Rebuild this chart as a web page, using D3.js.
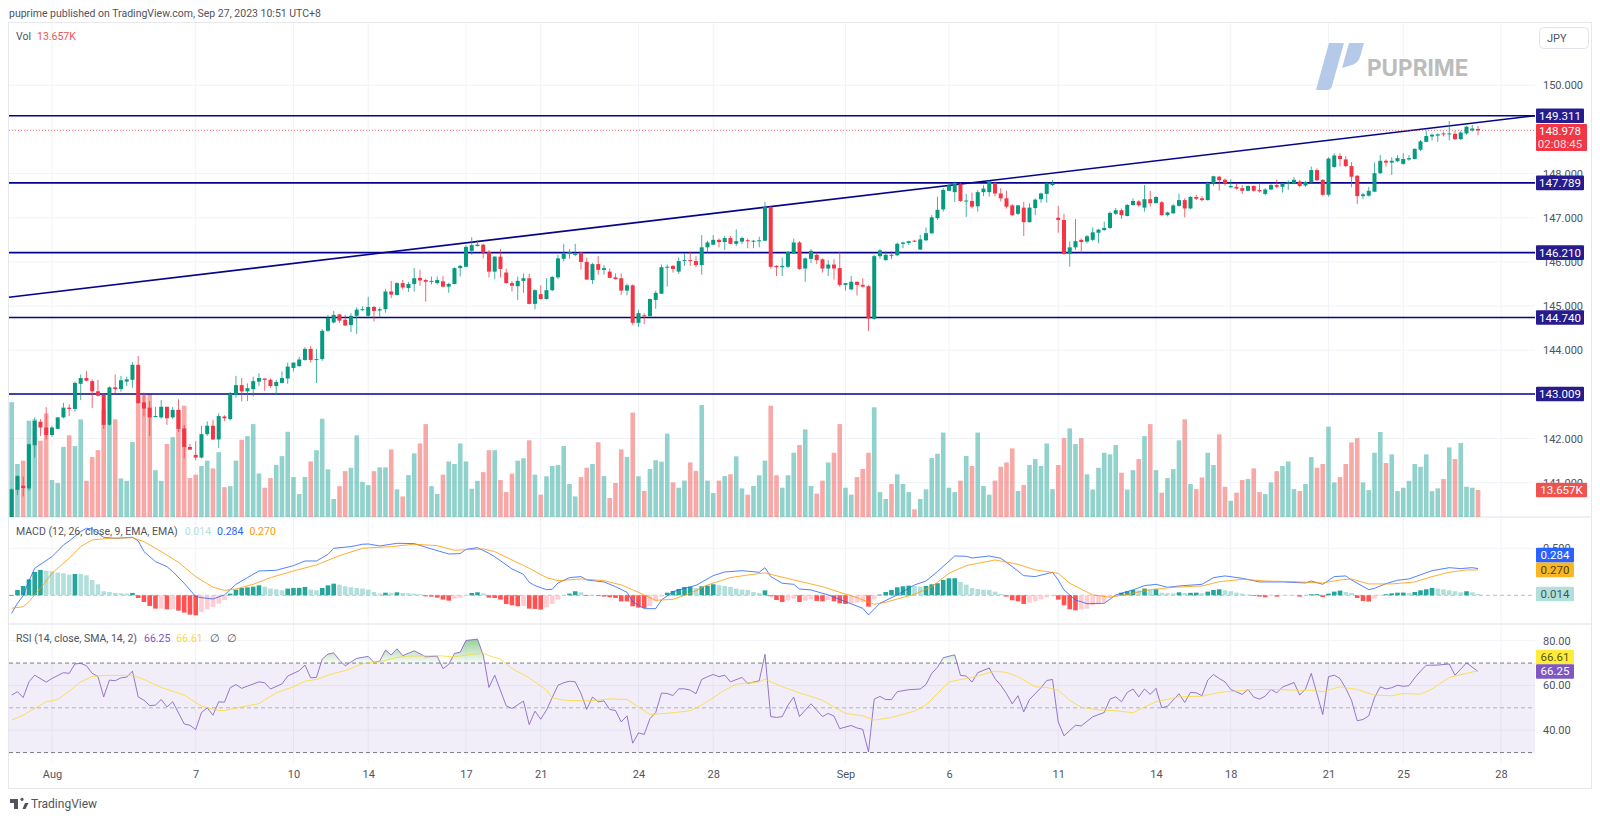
<!DOCTYPE html>
<html>
<head>
<meta charset="utf-8">
<script src="https://cdn.jsdelivr.net/npm/d3@7"></script>
<style>
  html, body { margin: 0; padding: 0; background: #fff; }
  svg { display: block; font-family: Roboto, sans-serif; }
  .domain { display: none; }
</style>
</head>
<body>
<div id="chart"></div>
<script>
// USDJPY 4h bars
var openP = [
  140.22,140.84,140.93,140.87,141.85,142.38,142.25,142.08,142.22,142.48,
  142.70,142.67,143.24,143.37,143.30,143.07,142.99,142.31,143.16,143.12,
  143.29,143.33,143.67,142.82,142.70,142.50,142.48,142.72,142.48,142.65,
  142.23,141.81,141.63,141.57,142.10,142.29,141.98,142.50,142.44,142.99,
  143.21,143.07,143.12,143.29,143.36,143.33,143.19,143.26,143.36,143.60,
  143.64,143.78,144.03,143.78,143.80,144.44,144.63,144.81,144.69,144.57,
  144.78,144.91,144.78,144.98,144.90,144.93,145.33,145.25,145.52,145.41,
  145.50,145.64,145.59,145.55,145.52,145.56,145.44,145.50,145.86,145.89,
  146.25,146.36,146.39,146.22,145.78,146.12,145.76,145.52,145.45,145.57,
  145.63,145.05,145.27,145.16,145.36,145.65,146.07,146.18,146.16,146.21,
  146.00,145.59,145.95,145.82,145.78,145.65,145.63,145.35,145.47,144.62,
  144.79,144.77,145.14,145.28,145.88,145.91,145.78,146.02,146.04,146.02,
  145.93,146.33,146.39,146.50,146.45,146.54,146.41,146.46,146.49,146.46,
  146.47,146.48,147.24,145.91,145.88,145.89,146.19,146.44,145.85,146.07,
  146.16,146.06,145.85,145.94,145.86,145.48,145.38,145.55,145.48,145.45,
  144.71,146.13,146.04,146.16,146.15,146.41,146.43,146.48,146.28,146.49,
  146.65,146.99,147.19,147.61,147.58,147.76,147.38,147.38,147.26,147.58,
  147.58,147.78,147.55,147.44,147.28,147.09,147.23,146.90,147.22,147.42,
  147.54,147.74,147.00,146.95,146.18,146.33,146.50,146.46,146.50,146.66,
  146.72,146.77,147.09,147.17,147.04,147.29,147.37,147.23,147.42,147.33,
  147.35,147.06,147.10,147.27,147.40,147.21,147.47,147.44,147.40,147.78,
  147.93,147.86,147.69,147.70,147.67,147.61,147.72,147.63,147.54,147.64,
  147.74,147.70,147.78,147.78,147.82,147.73,147.80,148.08,147.86,147.52,
  148.15,148.40,148.32,148.17,147.95,147.49,147.50,147.59,148.01,148.29,
  148.25,148.28,148.22,148.32,148.33,148.54,148.72,148.84,148.86,148.91,
  148.89,148.90,148.78,148.91,148.98,149.01];
var closeP = [
  140.85,141.15,140.88,141.87,142.40,142.25,142.08,142.25,142.48,142.70,
  142.67,143.26,143.37,143.31,143.07,142.97,142.31,143.16,143.12,143.32,
  143.34,143.67,142.80,142.68,142.48,142.51,142.72,142.46,142.65,142.22,
  141.81,141.75,141.57,142.10,142.29,141.98,142.51,142.46,143.01,143.21,
  143.07,143.14,143.30,143.37,143.33,143.19,143.28,143.37,143.63,143.72,
  143.79,144.03,143.78,143.80,144.44,144.73,144.80,144.67,144.56,144.78,
  144.92,144.93,144.98,144.89,144.93,145.33,145.26,145.52,145.42,145.50,
  145.63,145.58,145.55,145.57,145.59,145.44,145.50,145.86,145.91,146.34,
  146.38,146.39,146.21,145.78,146.12,145.84,145.52,145.46,145.57,145.63,
  145.05,145.36,145.16,145.36,145.66,146.08,146.19,146.22,146.19,146.00,
  145.60,145.95,145.82,145.86,145.64,145.61,145.35,145.47,144.62,144.84,
  144.77,145.16,145.30,145.88,145.89,145.84,146.02,146.04,146.02,145.93,
  146.33,146.44,146.50,146.45,146.54,146.41,146.47,146.54,146.47,146.48,
  146.49,147.24,145.89,145.88,145.91,146.22,146.44,145.84,146.08,146.25,
  146.04,145.85,145.94,145.85,145.48,145.52,145.55,145.48,145.44,144.72,
  146.13,146.26,146.16,146.14,146.41,146.44,146.47,146.47,146.51,146.65,
  147.01,147.18,147.63,147.73,147.79,147.38,147.39,147.25,147.58,147.66,
  147.83,147.55,147.44,147.25,147.06,147.28,146.90,147.23,147.41,147.55,
  147.77,147.78,146.95,146.18,146.33,146.47,146.45,146.58,146.67,146.73,
  146.77,147.11,147.17,147.06,147.29,147.38,147.28,147.42,147.33,147.47,
  147.06,147.12,147.28,147.40,147.21,147.47,147.43,147.40,147.79,147.94,
  147.85,147.78,147.72,147.66,147.61,147.72,147.61,147.60,147.64,147.74,
  147.70,147.78,147.80,147.86,147.72,147.81,148.08,147.85,147.52,148.34,
  148.41,148.33,148.17,147.93,147.49,147.53,147.61,148.01,148.29,148.25,
  148.29,148.35,148.33,148.35,148.56,148.73,148.85,148.88,148.89,148.90,
  148.91,148.78,148.93,149.06,149.02,148.978];
var highP = [
  140.87,141.17,141.14,141.89,142.48,142.44,142.71,142.29,142.48,142.81,
  142.78,143.29,143.45,143.53,143.34,143.33,143.02,143.18,143.45,143.42,
  143.40,143.73,143.87,143.04,142.85,142.72,142.87,142.72,142.72,142.89,
  142.31,141.88,141.94,142.29,142.39,142.42,142.57,142.53,143.06,143.42,
  143.37,143.25,143.40,143.48,143.36,143.36,143.33,143.52,143.72,143.72,
  143.85,144.07,144.10,144.03,144.48,144.80,144.89,144.82,144.80,144.84,
  144.97,144.99,145.21,145.00,144.97,145.39,145.57,145.54,145.59,145.55,
  145.86,145.82,145.62,145.67,145.67,145.68,145.53,145.88,145.93,146.38,
  146.56,146.50,146.41,146.27,146.13,146.29,145.85,145.57,145.67,145.74,
  145.73,145.38,145.47,145.63,145.68,146.16,146.41,146.29,146.41,146.22,
  146.10,145.98,146.13,145.93,145.85,145.74,145.74,145.51,145.49,144.91,
  144.84,145.17,145.35,145.94,145.94,145.93,146.10,146.19,146.23,146.13,
  146.61,146.48,146.61,146.53,146.59,146.59,146.74,146.57,146.53,146.50,
  146.57,147.36,147.27,145.93,146.10,146.25,146.53,146.47,146.10,146.29,
  146.21,146.08,146.04,146.06,146.23,145.52,145.68,145.55,145.63,145.48,
  146.16,146.29,146.24,146.24,146.44,146.46,146.48,146.50,146.61,146.78,
  147.06,147.48,147.67,147.79,147.82,147.79,147.54,147.57,147.63,147.74,
  147.85,147.82,147.67,147.61,147.31,147.29,147.36,147.33,147.44,147.57,
  147.82,147.86,147.27,147.09,146.46,146.97,146.53,146.61,146.78,146.75,
  146.91,147.14,147.22,147.21,147.31,147.44,147.40,147.74,147.61,147.49,
  147.38,147.14,147.31,147.55,147.44,147.49,147.52,147.49,147.82,147.95,
  147.95,147.89,147.87,147.79,147.74,147.73,147.73,147.76,147.67,147.76,
  147.87,147.79,147.85,147.92,147.86,147.83,148.16,148.12,147.87,148.37,
  148.46,148.46,148.40,148.26,147.97,147.57,147.70,148.25,148.42,148.32,
  148.37,148.42,148.46,148.42,148.57,148.76,148.97,148.91,148.91,148.95,
  149.19,148.97,148.97,149.08,149.10,149.08];
var lowP = [
  140.22,140.72,140.69,140.82,141.57,142.06,141.98,142.04,142.21,142.46,
  142.51,142.61,142.87,143.30,142.69,142.95,142.22,142.29,143.02,143.06,
  143.19,143.15,142.80,142.50,142.06,142.48,142.45,142.31,142.45,142.15,
  141.55,141.74,141.51,141.55,142.06,141.97,141.79,142.40,142.41,142.93,
  142.84,142.85,142.95,143.19,143.08,143.15,142.99,143.25,143.24,143.52,
  143.63,143.76,143.72,143.26,143.76,144.42,144.61,144.62,144.55,144.41,
  144.37,144.89,144.75,144.65,144.74,144.85,145.18,145.24,145.38,145.32,
  145.33,145.46,145.10,145.49,145.49,145.42,145.30,145.49,145.67,145.88,
  146.16,146.35,146.08,145.65,145.61,145.65,145.51,145.33,145.14,145.30,
  145.04,144.93,145.15,145.15,145.34,145.61,146.01,146.07,146.13,145.83,
  145.59,145.50,145.71,145.71,145.63,145.60,145.25,145.24,144.57,144.53,
  144.59,144.76,144.94,145.27,145.44,145.76,145.73,145.91,145.91,145.88,
  145.71,146.21,146.38,146.33,146.27,146.40,146.36,146.40,146.31,146.31,
  146.33,146.47,145.85,145.68,145.68,145.86,146.18,145.82,145.55,145.97,
  145.95,145.76,145.68,145.60,145.44,145.35,145.36,145.24,145.42,144.43,
  144.69,146.07,146.03,146.06,146.13,146.31,146.38,146.45,146.27,146.47,
  146.63,146.95,147.14,147.60,147.36,147.36,147.02,147.21,147.14,147.49,
  147.48,147.49,147.37,147.21,147.04,147.06,146.59,146.89,147.06,147.34,
  147.34,147.72,146.66,146.16,145.89,146.27,146.19,146.42,146.47,146.42,
  146.71,146.75,147.06,146.97,147.03,147.27,147.25,147.14,147.25,147.33,
  147.05,147.03,147.09,147.25,147.01,147.19,147.40,147.37,147.39,147.72,
  147.61,147.73,147.67,147.64,147.54,147.60,147.59,147.57,147.51,147.62,
  147.67,147.57,147.63,147.76,147.69,147.70,147.78,147.83,147.49,147.48,
  148.13,148.16,148.15,147.69,147.31,147.42,147.48,147.58,147.99,148.16,
  147.97,148.26,148.20,148.29,148.32,148.51,148.71,148.75,148.72,148.84,
  148.75,148.76,148.76,148.88,148.95,148.87];
// volume in thousands
var volumes = [
  58.1,26.8,28.5,48.7,49.4,38.6,52.4,18.7,17.2,35.5,
  41.3,35.9,49.4,18.3,30.3,33.8,54.1,46.5,49.4,19.5,
  18.3,37.9,61.7,61.7,62,23.7,18.3,36.9,40.4,54.1,
  56.3,19.7,21.4,25.8,28.5,24.6,32.8,15.1,15.6,28.5,
  39.1,40.9,47,22,14.8,19.7,26.3,30.8,43.1,20.2,
  11.6,20.2,28.1,33.8,49.7,24.1,9.1,15.6,23.2,24.9,
  41.3,17.8,16.1,23.2,25.1,25.1,34.2,14,10.4,21.2,
  32.2,37.2,47,15.6,11.6,21.4,28.1,26.8,37.2,28.1,
  14.3,18.3,22.7,33.8,33.8,18.7,12.6,21.9,28.5,29.7,
  38.8,21.4,11.3,20.6,25.8,26.3,35.9,16.7,10.4,20.2,
  24.9,26.8,37.8,20.7,9.6,17.2,34.2,30.3,52.8,20.6,
  13.2,24.3,28.7,28,42.2,17.5,14.8,18.4,27.6,23.3,
  56.7,18.4,12.1,18.4,20.7,21.6,30.7,14.5,11.3,15.7,
  21.1,28.5,56.3,21.1,14.8,21.1,32.5,36.4,44.3,15.7,
  11.8,18.4,27.6,32.5,47,14.8,11.3,20.2,24.3,32.5,
  55.5,12.6,9.1,16.7,21.6,16.7,12.6,3.9,9.1,14,
  29.8,32,42.7,14.8,12.6,18.4,30.9,25.8,42.7,15.7,
  11.3,18.4,25.4,27.6,34.7,13.1,16.2,26.3,29.3,25.8,
  37.2,14.1,26.3,39.9,44.8,36.9,39.9,21.6,13.9,24.9,
  32.5,31.7,36.4,22.4,13.9,23.7,29.3,40.9,47,23.7,
  12.3,19.7,24.2,38.8,49.4,16.7,14.1,20,32.5,26.3,
  41.8,15.3,8.2,12.3,18.7,19.2,24.6,12.6,11.6,17.5,
  23.2,25.8,28.1,14.1,13.1,16.7,30.3,24.9,26.8,45.7,
  17.5,20.2,26.8,37.7,39.9,17.5,13.6,32.5,43,27.3,
  31.7,13.1,14.8,18.3,26.8,25.4,31.7,13.1,14.5,19.2,
  35.2,29.3,37.4,15.3,14.8,13.657];
var macdHist = [
  -.007,.057,.099,.17,.248,.27,.262,.255,.241,.234,
  .22,.227,.226,.213,.163,.117,.043,.035,.025,.021,
  .018,.025,-.028,-.071,-.113,-.142,-.141,-.149,-.148,-.163,
  -.184,-.206,-.213,-.177,-.149,-.124,-.089,-.05,.018,.06,
  .078,.085,.092,.106,.092,.071,.064,.053,.071,.078,
  .079,.089,.06,.053,.078,.106,.124,.113,.096,.085,
  .078,.071,.06,.035,.018,.028,.027,.032,.025,.021,
  .018,.011,-.011,-.014,-.025,-.046,-.057,-.035,-.025,-.007,
  .025,.032,.021,-.025,-.028,-.046,-.092,-.106,-.117,-.113,
  -.142,-.145,-.152,-.128,-.092,-.046,-.004,.018,.043,.032,
  -.007,-.004,-.007,-.014,-.021,-.028,-.064,-.065,-.117,-.131,
  -.135,-.113,-.064,-.014,.028,.046,.067,.089,.092,.078,
  .096,.103,.117,.106,.099,.089,.071,.06,.057,.035,
  .025,.053,-.011,-.05,-.071,-.053,-.035,-.071,-.057,-.043,
  -.06,-.064,-.05,-.064,-.085,-.092,-.085,-.078,-.071,-.121,
  -.043,.007,.035,.057,.085,.096,.103,.099,.092,.099,
  .117,.128,.163,.181,.182,.142,.113,.078,.067,.06,
  .057,.039,.014,-.014,-.053,-.064,-.092,-.078,-.064,-.043,
  -.021,-.011,-.046,-.106,-.149,-.16,-.152,-.142,-.106,-.096,
  -.078,-.014,-.007,.028,.043,.057,.053,.071,.057,.064,
  .028,.021,.02,.032,.025,.026,.028,.021,.039,.057,
  .064,.053,.043,.028,.018,.007,-.007,-.014,-.021,-.007,
  -.014,-.007,-.004,-.004,-.014,0,.011,.012,-.018,.018,
  .039,.05,.035,.025,-.028,-.06,-.067,-.035,-.007,.011,
  .021,.028,.029,.025,.035,.053,.064,.078,.071,.064,
  .053,.043,.032,.043,.032,.014];
// [bar, value] at the turns of each line
var macdLine = [[0,-.191],[1,-.085],[2,-.004],[3,.152],[4,.287],[7,.411],[9,.535],[10,.578],[12,.677],[13,.713],[14,.706],[16,.617],[18,.606],[21,.617],[22,.578],[23,.465],[25,.358],[27,.305],[28,.252],[30,.128],[32,-.014],[33,-.025],[35,-.039],[37,.004],[39,.117],[41,.188],[43,.259],[46,.266],[49,.316],[51,.365],[53,.365],[55,.436],[56,.5],[59,.518],[61,.543],[62,.546],[64,.525],[67,.553],[70,.55],[73,.493],[76,.44],[78,.443],[79,.489],[81,.507],[83,.447],[84,.411],[87,.28],[89,.223],[90,.138],[91,.103],[93,.06],[94,.064],[95,.131],[97,.188],[99,.199],[100,.163],[103,.142],[105,.092],[107,.032],[108,-.067],[110,-.142],[112,-.142],[113,-.05],[115,.039],[119,.106],[122,.209],[124,.248],[127,.262],[130,.245],[131,.294],[132,.199],[134,.128],[136,.117],[137,.067],[139,.057],[142,.004],[145,-.067],[148,-.138],[149,-.209],[151,-.085],[154,.004],[157,.11],[159,.152],[161,.252],[164,.418],[166,.415],[167,.397],[170,.418],[172,.394],[174,.305],[176,.209],[178,.199],[181,.245],[182,.163],[183,.057],[185,-.05],[187,-.089],[190,-.085],[192,.004],[195,.057],[197,.103],[199,.117],[201,.085],[203,.099],[207,.117],[209,.188],[211,.206],[214,.181],[217,.142],[221,.142],[225,.131],[226,.152],[228,.117],[230,.199],[232,.206],[233,.163],[236,.06],[237,.074],[239,.124],[241,.16],[243,.174],[247,.262],[250,.294],[252,.284],[254,.294],[255,.284]];
var signalLine = [[0,-.138],[2,-.121],[3,-.067],[5,.074],[7,.234],[10,.394],[12,.518],[14,.589],[17,.606],[21,.613],[23,.571],[26,.465],[29,.351],[32,.199],[35,.085],[37,.053],[39,.067],[42,.117],[45,.188],[49,.259],[53,.323],[57,.422],[61,.5],[66,.518],[70,.543],[74,.528],[77,.479],[82,.493],[84,.465],[87,.376],[90,.287],[93,.188],[95,.156],[99,.174],[103,.156],[106,.11],[109,.032],[112,-.053],[115,-.043],[118,.021],[121,.11],[125,.188],[128,.216],[131,.238],[136,.163],[141,.092],[144,.032],[147,-.025],[150,-.096],[152,-.074],[157,.011],[160,.092],[163,.234],[166,.316],[171,.376],[175,.33],[178,.27],[182,.234],[184,.128],[188,.004],[191,-.021],[194,.011],[198,.06],[202,.085],[207,.099],[210,.145],[214,.17],[218,.152],[223,.145],[228,.131],[231,.163],[233,.174],[236,.121],[240,.121],[244,.142],[247,.199],[250,.245],[253,.27],[255,.27]];
var rsiLine = [[0,55.7],[1,57.2],[2,54.6],[3,61.6],[4,64.6],[6,61.5],[7,63.1],[9,65.7],[10,65.4],[11,69.6],[12,69.9],[13,68.8],[14,65.4],[15,64],[16,54.9],[17,62.4],[18,62.1],[19,63.4],[20,63.7],[21,66.4],[22,54.9],[23,53.4],[24,51],[25,51.2],[26,53.7],[27,50.4],[28,52.7],[30,42.8],[31,42.2],[32,40.3],[33,47.9],[34,50],[35,46.7],[36,52.7],[37,52.5],[38,59],[39,60.4],[40,58.7],[41,59.7],[43,61.6],[44,61.2],[45,58.4],[47,60.7],[48,64.2],[50,66.6],[51,69.1],[52,63.4],[53,63.6],[54,71.8],[55,74],[56,74.6],[57,71.3],[58,68.8],[60,72.1],[62,73],[63,70.3],[64,70.9],[65,75.8],[66,73.6],[67,76.4],[68,73.3],[70,75.5],[72,72.8],[74,73.1],[75,67.5],[76,69.4],[77,74.3],[78,74.9],[79,80.1],[81,80.7],[82,73.6],[83,59.1],[84,64.6],[86,50.9],[87,49.7],[89,53],[90,42.5],[91,48.5],[92,44.9],[93,49],[95,60.1],[96,61.2],[97,61.9],[98,61.6],[99,56.4],[100,49.3],[101,54.8],[102,52.7],[103,53.1],[104,49.3],[105,48.8],[106,43.7],[107,46.4],[108,34.2],[109,38.8],[110,38.1],[111,45.2],[112,47.9],[113,56.6],[114,56.4],[115,55.5],[116,58.5],[117,58.5],[118,57.9],[119,56.3],[120,62.7],[121,63.9],[122,64.9],[123,63.9],[124,64.6],[125,61.6],[127,63.6],[128,60.9],[130,62.1],[131,73.9],[132,46.1],[133,45.7],[134,46.1],[135,51.2],[136,54.8],[137,46.1],[139,51.8],[141,46.1],[142,47.5],[143,46.3],[144,40.7],[146,42.1],[147,41],[148,40.4],[149,30.3],[150,53.9],[151,55.1],[152,53.7],[153,53.7],[154,57.2],[156,58.1],[158,58.4],[159,60.4],[160,65.4],[161,68.1],[162,72.4],[164,73.7],[165,64.5],[166,64.2],[167,61.5],[168,65.7],[170,67.8],[171,63.1],[172,60.1],[173,56.4],[174,51.8],[175,55.4],[176,48.2],[177,53.7],[179,59],[180,62.2],[181,62.7],[182,43.7],[183,37.5],[185,42.2],[186,41.9],[188,46],[190,47.9],[191,53.9],[192,54.9],[193,52.7],[194,56.9],[195,58.4],[196,54.9],[197,58.4],[198,56],[199,58.7],[200,50],[201,50.7],[203,56.3],[204,52.4],[205,56.9],[206,56.7],[207,55.4],[208,62.4],[209,64.9],[210,63.1],[211,61.6],[212,58.2],[214,56],[215,58.2],[216,54.8],[217,53.9],[218,55.2],[219,58.2],[220,56.7],[221,59.3],[223,61.3],[224,55.7],[225,58.4],[226,65.4],[228,47],[229,63.9],[230,64.6],[231,63.1],[232,58.7],[233,53.4],[234,44.2],[235,44.8],[236,46.4],[237,54.5],[238,59.4],[239,58.4],[240,59],[241,60.1],[242,59.6],[243,59.9],[244,63.4],[245,66.4],[246,69],[248,69.1],[250,69.6],[251,64.6],[252,67.3],[253,70.1],[255,66.25]];
var rsiMa = [[0,44.5],[2,46.7],[6,52.7],[8,53.7],[10,57.5],[12,61.6],[14,64],[16,64.5],[21,64.5],[23,62.7],[26,59.1],[30,55.7],[33,50.7],[36,48.8],[37,48.8],[40,50.4],[43,51.9],[46,56.7],[49,59.4],[51,61.9],[53,62.7],[56,65.4],[58,66.6],[61,69.7],[64,70.6],[67,72.5],[69,73.1],[74,73.3],[77,72.8],[82,74.6],[83,73.3],[85,71.8],[87,67.6],[90,63.4],[93,57.9],[94,54.5],[96,53.4],[100,53.1],[102,53.4],[104,54],[107,53.7],[109,50.4],[111,47],[115,47.8],[118,48.7],[120,51.2],[124,57.9],[126,60.6],[130,61.6],[131,62.8],[134,59.4],[137,56.7],[141,53.4],[143,50.4],[145,47.5],[148,46.4],[150,44.5],[153,45.7],[157,48.5],[159,51.2],[161,56.4],[163,61.6],[167,63.6],[171,66.4],[173,65.8],[175,63.9],[178,59.4],[180,59.1],[182,57.9],[184,53.4],[186,50.2],[189,49.1],[192,48.7],[195,47.8],[197,50.4],[199,52.7],[203,54.9],[207,55.2],[210,56.9],[213,57.5],[216,58.2],[220,58.2],[224,57.8],[226,57.9],[228,57.2],[231,59.4],[234,58.2],[237,55.7],[240,55.4],[242,56.4],[245,56.1],[247,58.4],[250,63.6],[253,65.4],[255,66.61]];

var dateTickBars = [7,32,49,62,79,92,109,122,145,163,182,199,212,229,242,259];
var dateTickLabels = ["Aug","7","10","14","17","21","24","28","Sep","6","11","14","18","21","25","28"];
var priceGrid = [141,142,143,144,145,146,147,148,149,150];
var priceTicks = [141,142,144,145,146,147,148,150];
var macdTicks = [0.5];
var rsiTicks = [40,60,80];
var rsiBands = [70,50,30];
var levels = [149.311,147.789,146.21,144.74,143.009];
var trendPrices = [145.2,149.311];
var lastPrice = 148.978;

var width = 1600, height = 819,
    plotLeft = 9, plotRight = 1535, frameRight = 1591, plotTop = 23, frameBottom = 788,
    mainBottom = 517, macdBottom = 624, rsiBottom = 763;

var up = "#089981", down = "#f23645", grid = "#f1f3f8", border = "#e6e8ee",
    navy = "#05058c", tickText = "#50535e";

var x = d3.scaleLinear().domain([0,255]).range([11.7,1478]);
var y = d3.scaleLinear().domain([149.311,143.009]).range([115.7,394]);
var yVol = d3.scaleLinear().domain([0,60]).range([517,398.4]);
var yMacd = d3.scaleLinear().domain([0,0.5]).range([595.3,548.3]);
var yRsi = d3.scaleLinear().domain([80,40]).range([640.7,730.2]);

var svg = d3.select("#chart").append("svg")
    .attr("width", width)
    .attr("height", height);

var defs = svg.append("defs");
defs.append("clipPath").attr("id", "mainClip").append("rect")
    .attr("x", plotLeft).attr("y", plotTop).attr("width", plotRight - plotLeft).attr("height", mainBottom - plotTop);
defs.append("clipPath").attr("id", "over70").append("rect")
    .attr("x", plotLeft).attr("y", macdBottom).attr("width", plotRight - plotLeft).attr("height", yRsi(70) - macdBottom);
var fade = defs.append("linearGradient").attr("id", "overFill")
    .attr("gradientUnits", "userSpaceOnUse")
    .attr("x1", 0).attr("x2", 0).attr("y1", yRsi(80)).attr("y2", yRsi(70));
fade.append("stop").attr("offset", 0).attr("stop-color", "#4caf50").attr("stop-opacity", .55);
fade.append("stop").attr("offset", 1).attr("stop-color", "#4caf50").attr("stop-opacity", .05);

svg.append("rect").attr("x", plotLeft - .5).attr("y", plotTop - .5)
    .attr("width", frameRight - plotLeft + 1).attr("height", frameBottom - plotTop + 1)
    .attr("fill", "none").attr("stroke", border);

// grid
svg.append("g").selectAll("line").data(dateTickBars).join("line")
    .attr("x1", x).attr("x2", x).attr("y1", plotTop).attr("y2", rsiBottom)
    .attr("stroke", grid);

function hGrid(ticks, scale) {
  svg.append("g").selectAll("line").data(ticks).join("line")
      .attr("x1", plotLeft).attr("x2", plotRight)
      .attr("y1", scale).attr("y2", scale)
      .attr("stroke", grid);
}
hGrid(priceGrid, y);
hGrid(macdTicks, yMacd);
hGrid(rsiTicks, yRsi);

// pane separators
svg.append("g").selectAll("line").data([mainBottom, macdBottom]).join("line")
    .attr("x1", plotLeft).attr("x2", frameRight).attr("y1", function(d) { return d; }).attr("y2", function(d) { return d; })
    .attr("stroke", "#e9ebf0").attr("stroke-width", 1.5);

// watermark
svg.append("path").attr("fill", "#b5cae9")
    .attr("d", "M1329 43h15l-12 43q-1 4-5 4h-11zM1349 43h15l-4 14q-2 6-8 8l-10 3z");
svg.append("text").attr("x", 1367).attr("y", 75.5)
    .attr("font-family", "Inter, sans-serif").attr("font-size", 22.5).attr("font-weight", 700)
    .attr("fill", "#bcbcbc").text("PUPRIME");

var bars = d3.range(openP.length);

// volume
svg.append("g").selectAll("rect").data(volumes).join("rect")
    .attr("x", function(d, i) { return x(i) - 2.3; })
    .attr("width", 4.6)
    .attr("y", function(d) { return yVol(d); })
    .attr("height", function(d) { return yVol(0) - yVol(d); })
    .attr("fill", function(d, i) { return closeP[i] >= openP[i] ? "#26a69a" : "#ef5350"; })
    .attr("fill-opacity", .5);

// levels and trend
svg.append("g").selectAll("line").data(levels).join("line")
    .attr("x1", plotLeft).attr("x2", plotRight)
    .attr("y1", y).attr("y2", y)
    .attr("stroke", navy).attr("stroke-width", 1.6);
svg.append("line")
    .attr("x1", plotLeft).attr("x2", plotRight)
    .attr("y1", y(trendPrices[0])).attr("y2", y(trendPrices[1]))
    .attr("stroke", navy).attr("stroke-width", 1.6);
svg.append("line")
    .attr("x1", plotLeft).attr("x2", plotRight)
    .attr("y1", y(lastPrice)).attr("y2", y(lastPrice))
    .attr("stroke", down).attr("stroke-opacity", .7).attr("stroke-dasharray", "1 2");

// candles
var candles = svg.append("g").attr("clip-path", "url(#mainClip)")
  .selectAll("g").data(bars).join("g")
    .attr("fill", function(i) { return closeP[i] >= openP[i] ? up : down; });
candles.append("rect")
    .attr("x", function(i) { return x(i) - .5; })
    .attr("width", 1)
    .attr("y", function(i) { return y(highP[i]); })
    .attr("height", function(i) { return y(lowP[i]) - y(highP[i]); })
    .attr("fill-opacity", .75);
candles.append("rect")
    .attr("x", function(i) { return x(i) - 2; })
    .attr("width", 4)
    .attr("y", function(i) { return y(Math.max(openP[i], closeP[i])); })
    .attr("height", function(i) { return Math.max(1, Math.abs(y(openP[i]) - y(closeP[i]))); });

// macd
svg.append("line").attr("x1", plotLeft).attr("x2", plotRight)
    .attr("y1", yMacd(0)).attr("y2", yMacd(0))
    .attr("stroke", "#b9bcc5").attr("stroke-dasharray", "4 3");
svg.append("g").selectAll("rect").data(macdHist).join("rect")
    .attr("x", function(d, i) { return x(i) - 2.3; })
    .attr("width", 4.6)
    .attr("y", function(d) { return Math.min(yMacd(d), yMacd(0)); })
    .attr("height", function(d) { return Math.abs(yMacd(d) - yMacd(0)); })
    .attr("fill", function(d, i) {
      var prev = i ? macdHist[i - 1] : 0;
      if (d >= 0) return d >= prev ? "#26a69a" : "#b2dfdb";
      return d < prev ? "#ff5252" : "#ffcdd2";
    });

function drawLine(points, scale, color) {
  svg.append("path").datum(points)
      .attr("fill", "none")
      .attr("stroke", color)
      .attr("stroke-width", 1)
      .attr("stroke-opacity", .8)
      .attr("d", d3.line()
        .x(function(d) { return x(d[0]); })
        .y(function(d) { return scale(d[1]); }));
}
drawLine(macdLine, yMacd, "#2962ff");
drawLine(signalLine, yMacd, "#ff9800");

// rsi
svg.append("rect").attr("x", plotLeft).attr("width", plotRight - plotLeft)
    .attr("y", yRsi(70)).attr("height", yRsi(30) - yRsi(70))
    .attr("fill", "#7e57c2").attr("fill-opacity", .1);
svg.append("g").selectAll("line").data(rsiBands).join("line")
    .attr("x1", plotLeft).attr("x2", plotRight)
    .attr("y1", yRsi).attr("y2", yRsi)
    .attr("stroke", function(d) { return d == 50 ? "#b0b2ba" : "#787b86"; })
    .attr("stroke-dasharray", "4 3");
svg.append("path").datum(rsiLine)
    .attr("clip-path", "url(#over70)")
    .attr("fill", "url(#overFill)")
    .attr("d", d3.area()
      .x(function(d) { return x(d[0]); })
      .y0(yRsi(70))
      .y1(function(d) { return yRsi(d[1]); }));
drawLine(rsiLine, yRsi, "#7e57c2");
drawLine(rsiMa, yRsi, "#fdd835");

// axes
function styleAxis(g) {
  g.select(".domain").remove();
  g.selectAll("text").attr("fill", tickText).attr("font-size", 11).attr("font-family", "Roboto, sans-serif");
}
var priceAxis = d3.axisRight(y).tickValues(priceTicks).tickSize(0).tickPadding(8).tickFormat(d3.format(".3f"));
svg.append("g").attr("transform", "translate(" + plotRight + ",0)").call(priceAxis).call(styleAxis);
var macdAxis = d3.axisRight(yMacd).tickValues(macdTicks).tickSize(0).tickPadding(8).tickFormat(d3.format(".3f"));
svg.append("g").attr("transform", "translate(" + plotRight + ",0)").call(macdAxis).call(styleAxis);
var rsiAxis = d3.axisRight(yRsi).tickValues(rsiTicks).tickSize(0).tickPadding(8).tickFormat(d3.format(".2f"));
svg.append("g").attr("transform", "translate(" + plotRight + ",0)").call(rsiAxis).call(styleAxis);
var timeAxis = d3.axisBottom(x).tickValues(dateTickBars).tickSize(0).tickPadding(7)
    .tickFormat(function(d, i) { return dateTickLabels[i]; });
svg.append("g").attr("transform", "translate(0," + rsiBottom + ")").call(timeAxis).call(styleAxis);

// boxes on the price scale
function axisLabel(cy, label, fill, color, w) {
  svg.append("rect").attr("x", plotRight + 1).attr("y", cy - 7.3)
      .attr("width", w).attr("height", 14.6).attr("rx", 1).attr("fill", fill);
  svg.append("text").attr("x", plotRight + 1 + w / 2).attr("y", cy + 4)
      .attr("text-anchor", "middle").attr("font-size", 11.5)
      .attr("fill", color).text(label);
}
levels.forEach(function(d) { axisLabel(y(d), d3.format(".3f")(d), "#261c8e", "#fff", 48); });

svg.append("rect").attr("x", plotRight + 1).attr("y", y(lastPrice) - 6.5)
    .attr("width", 51).attr("height", 27).attr("rx", 1).attr("fill", down);
svg.append("text").attr("x", plotRight + 25).attr("y", y(lastPrice) + 4.2)
    .attr("text-anchor", "middle").attr("font-size", 11.5).attr("fill", "#fff").text(d3.format(".3f")(lastPrice));
svg.append("text").attr("x", plotRight + 25).attr("y", y(lastPrice) + 17.5)
    .attr("text-anchor", "middle").attr("font-size", 11.5).attr("fill", "#fff").attr("fill-opacity", .85).text("02:08:45");

axisLabel(yVol(volumes[255]), "13.657K", "#ef5350", "#fff", 51);
axisLabel(yMacd(macdLine[macdLine.length - 1][1]) - 13.5, "0.284", "#2962ff", "#fff", 38);
axisLabel(yMacd(signalLine[signalLine.length - 1][1]), "0.270", "#fbb624", "#50400f", 38);
axisLabel(yMacd(macdHist[255]), "0.014", "#b2dfdb", "#3d5a57", 38);
axisLabel(yRsi(rsiMa[rsiMa.length - 1][1]) - 13.5, "66.61", "#ffeb3b", "#5a5410", 38);
axisLabel(yRsi(rsiLine[rsiLine.length - 1][1]), "66.25", "#7e57c2", "#fff", 38);

// currency button
svg.append("rect").attr("x", 1539.5).attr("y", 27.5).attr("width", 49).attr("height", 21).attr("rx", 4)
    .attr("fill", "#fff").attr("stroke", "#e0e3eb");
svg.append("text").attr("x", 1547).attr("y", 42).attr("font-size", 11).attr("fill", tickText).text("JPY");

// header and legends
function legend(px, py, parts) {
  var t = svg.append("text").attr("x", px).attr("y", py).attr("font-size", 10.5);
  parts.forEach(function(p) {
    t.append("tspan").attr("fill", p[1]).attr("dx", p[2] || 0).text(p[0]);
  });
}
legend(9, 17, [["puprime published on TradingView.com, Sep 27, 2023 10:51 UTC+8", "#50535e"]]);
legend(16, 40, [["Vol", "#50535e"], ["13.657K", "#ef5350", 6]]);
legend(16, 535, [["MACD (12, 26, close, 9, EMA, EMA)", "#50535e"], ["0.014", "#b2dfdb", 7], ["0.284", "#2962ff", 6], ["0.270", "#ff9800", 6]]);
legend(16, 642, [["RSI (14, close, SMA, 14, 2)", "#50535e"], ["66.25", "#7e57c2", 7], ["66.61", "#fdd835", 6], ["\u2205", "#50535e", 7], ["\u2205", "#50535e", 7]]);

// footer
svg.append("path").attr("fill", "#50535e")
    .attr("d", "M10 799h8v10h-4v-6h-4zM22 801a1.6 1.6 0 1 1 0.01 0zM22.5 809l2.5-6h3.5l-3 6z");
svg.append("text").attr("x", 31).attr("y", 808).attr("font-size", 12).attr("fill", "#50535e").text("TradingView");
</script>
</body>
</html>
